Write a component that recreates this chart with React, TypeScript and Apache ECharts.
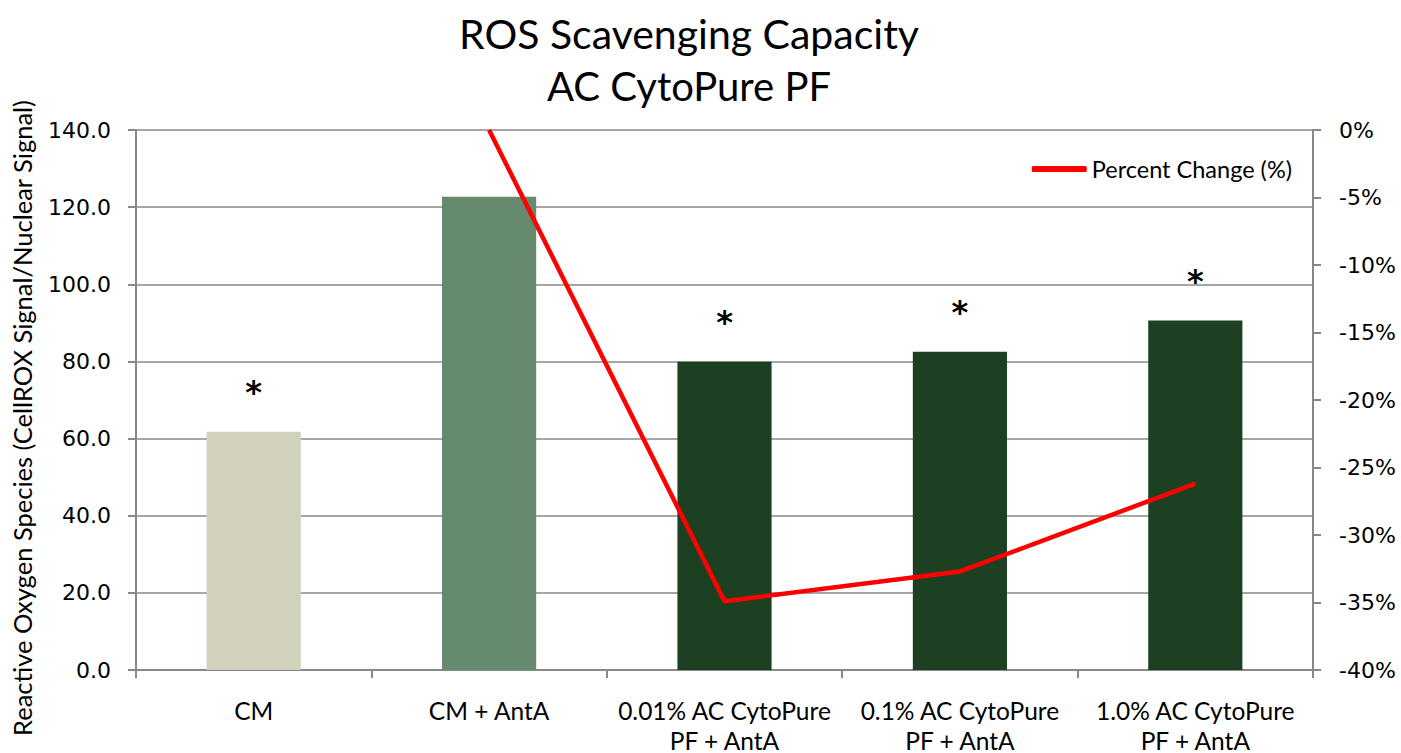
import React, { useEffect, useRef } from "react";
import * as echarts from "echarts";

const categories = [
  "CM",
  "CM + AntA",
  "0.01% AC CytoPure\nPF + AntA",
  "0.1% AC CytoPure\nPF + AntA",
  "1.0% AC CytoPure\nPF + AntA",
];
const rosValues = [61.8, 122.7, 79.9, 82.5, 90.6];
const barColors = ["#D1D1BC", "#668A6E", "#1E4022", "#1E4022", "#1E4022"];
const significant = [true, false, true, true, true];
const percentChange: (number | null)[] = [null, 0, -34.9, -32.7, -26.2];
const leftTicks = { min: 0, max: 140, interval: 20 };
const rightTicks = { min: -40, max: 0, interval: 5 };

export default function App() {
  const ref = useRef<HTMLDivElement>(null);
  useEffect(() => {
    if (!ref.current) return;
    const chart = echarts.init(ref.current, undefined, { renderer: "svg" });
    const font = "Lato, 'Open Sans', sans-serif";
    const tickFont = "'DejaVu Sans', Verdana, sans-serif";
    chart.setOption({
      animation: false,
      backgroundColor: "#ffffff",
      title: {
        text: "ROS Scavenging Capacity",
        subtext: "AC CytoPure PF",
        left: 684,
        textAlign: "center",
        top: 6,
        itemGap: 9,
        textStyle: { fontFamily: font, fontSize: 41, lineHeight: 44, fontWeight: "normal", color: "#000" },
        subtextStyle: { fontFamily: font, fontSize: 40, lineHeight: 44, color: "#000" },
      },
      legend: {
        data: ["Percent Change (%)"],
        right: 104,
        top: 152,
        icon: "roundRect",
        itemWidth: 55,
        itemHeight: 6,
        itemGap: 6,
        textStyle: { fontFamily: font, fontSize: 23.5, color: "#000", padding: [0, 0, 0, 0] },
      },
      grid: { left: 136, right: 88, top: 130, bottom: 83, outerBoundsMode: "none", containLabel: false },
      xAxis: {
        type: "category",
        data: categories,
        boundaryGap: true,
        axisLine: { lineStyle: { color: "#888", width: 2 } },
        axisTick: { show: true, length: 8, lineStyle: { color: "#888", width: 2 } },
        axisLabel: {
          interval: 0,
          margin: 25,
          fontFamily: font,
          fontSize: 24.5,
          lineHeight: 30,
          color: "#000",
        },
      },
      yAxis: [
        {
          type: "value",
          min: leftTicks.min,
          max: leftTicks.max,
          interval: leftTicks.interval,
          name: "Reactive Oxygen Species (CellROX Signal/Nuclear Signal)",
          nameLocation: "middle",
          nameGap: 101,
          nameTextStyle: { fontFamily: font, fontSize: 25.5, color: "#000", padding: [0, 36, 0, 0] },
          axisLine: { show: true, lineStyle: { color: "#888", width: 2 } },
          axisTick: { show: true, length: 8, lineStyle: { color: "#888", width: 2 } },
          axisLabel: {
            margin: 25,
            fontFamily: tickFont,
            fontSize: 22,
            color: "#000",
            formatter: (v: number) => v.toFixed(1),
          },
          splitLine: { lineStyle: { color: "#A6A6A6", width: 2 } },
        },
        {
          type: "value",
          min: rightTicks.min,
          max: rightTicks.max,
          interval: rightTicks.interval,
          position: "right",
          axisLine: { show: true, lineStyle: { color: "#888", width: 2 } },
          axisTick: { show: true, length: 8, lineStyle: { color: "#888", width: 2 } },
          axisLabel: {
            margin: 26,
            fontFamily: tickFont,
            fontSize: 22,
            color: "#000",
            formatter: (v: number) => v + "%",
          },
          splitLine: { show: false },
        },
      ],
      series: [
        {
          name: "ROS",
          type: "bar",
          yAxisIndex: 0,
          barWidth: "40%",
          data: rosValues.map((v, i) => ({
            value: v,
            itemStyle: { color: barColors[i] },
            label: {
              show: significant[i],
              position: "top",
              distance: 24,
              formatter: "*",
              fontFamily: "'DejaVu Sans', sans-serif",
              fontSize: 32,
              fontWeight: "bold",
              color: "#000",
            },
          })),
        },
        {
          name: "Percent Change (%)",
          type: "line",
          yAxisIndex: 1,
          data: percentChange,
          symbol: "none",
          connectNulls: false,
          lineStyle: { color: "#FF0000", width: 4.5 },
          itemStyle: { color: "#FF0000" },
        },
      ],
    });
    return () => chart.dispose();
  }, []);
  return (
    <div
      ref={ref}
      style={{ position: "fixed", left: 0, top: 0, width: 1401, height: 753 }}
    />
  );
}
